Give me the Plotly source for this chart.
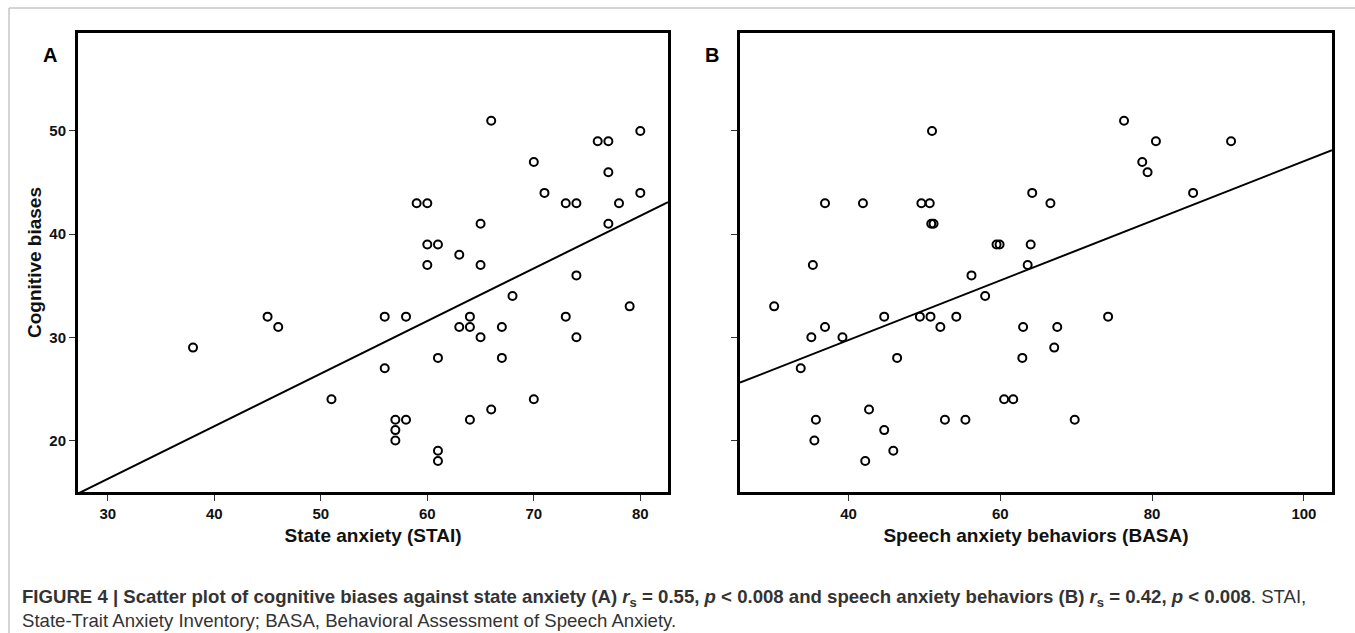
import plotly.graph_objects as go

# Panel A: State anxiety (STAI) vs Cognitive biases
stai = [38, 45, 46, 51, 56, 56, 57, 57, 57, 58, 58, 59, 60, 60, 60, 61, 61, 61, 61,
        63, 63, 64, 64, 64, 65, 65, 65, 66, 66, 67, 67, 68, 70, 70, 71, 73, 73, 74,
        74, 74, 76, 77, 77, 77, 78, 79, 80, 80]
bias_a = [29, 32, 31, 24, 32, 27, 22, 21, 20, 32, 22, 43, 43, 39, 37, 39, 28, 19, 18,
          38, 31, 32, 31, 22, 41, 37, 30, 51, 23, 31, 28, 34, 47, 24, 44, 43, 32, 43,
          36, 30, 49, 49, 46, 41, 43, 33, 50, 44]

# Panel B: Speech anxiety behaviors (BASA) vs Cognitive biases
basa = [30.2, 33.7, 35.1, 35.3, 35.5, 35.7, 36.9, 36.9, 39.2, 41.9, 42.2, 42.7, 44.7,
        44.7, 45.9, 46.4, 49.4, 49.6, 50.7, 50.8, 50.9, 51.2, 51.0, 52.1, 52.7, 54.2,
        55.4, 56.2, 58.0, 59.5, 59.9, 60.5, 61.7, 62.9, 63.0, 63.6, 64.0, 64.2, 66.6,
        67.1, 67.5, 69.8, 74.2, 76.3, 78.7, 79.4, 80.5, 85.4, 90.4]
bias_b = [33, 27, 30, 37, 20, 22, 43, 31, 30, 43, 18, 23, 32, 21, 19, 28, 32, 43, 43,
          32, 41, 41, 50, 31, 22, 32, 22, 36, 34, 39, 39, 24, 24, 28, 31, 37, 39, 44,
          43, 29, 31, 22, 32, 51, 47, 46, 49, 44, 49]

# Regression lines (intercept, slope)
fit_a = (0.975, 0.51)
fit_b = (18.17, 0.289)

xrange_a = [27.2, 82.6]
xrange_b = [25.7, 103.7]
yrange = [15, 59.5]

xticks_a = [30, 40, 50, 60, 70, 80]
xticks_b = [40, 60, 80, 100]
yticks = [20, 30, 40, 50]

W, H = 1355, 633
FONT = "Liberation Sans Narrow, Arial Narrow, Liberation Sans, Arial, sans-serif"

fig = go.Figure()

marker = dict(symbol="circle-open", size=8, color="black", line=dict(width=2, color="black"))

fig.add_trace(go.Scatter(x=stai, y=bias_a, mode="markers", marker=marker,
                         xaxis="x", yaxis="y", showlegend=False))
fig.add_trace(go.Scatter(x=xrange_a, y=[fit_a[0] + fit_a[1] * v for v in xrange_a],
                         mode="lines", line=dict(color="black", width=2),
                         xaxis="x", yaxis="y", showlegend=False))
fig.add_trace(go.Scatter(x=basa, y=bias_b, mode="markers", marker=marker,
                         xaxis="x2", yaxis="y2", showlegend=False))
fig.add_trace(go.Scatter(x=xrange_b, y=[fit_b[0] + fit_b[1] * v for v in xrange_b],
                         mode="lines", line=dict(color="black", width=2),
                         xaxis="x2", yaxis="y2", showlegend=False))

def px_x(p):
    return p / W

def px_y(p):
    return 1 - p / H

ax_common = dict(showline=True, linecolor="black", linewidth=3, mirror=True,
                 showgrid=False, zeroline=False, ticks="outside", ticklen=6,
                 tickwidth=1, tickcolor="#333",
                 tickfont=dict(family=FONT, size=15, color="#111", weight="bold"))

top, bottom = 33, 492

fig.update_layout(
    width=W, height=H, margin=dict(l=0, r=0, t=0, b=0),
    plot_bgcolor="white", paper_bgcolor="white",
    xaxis=dict(domain=[px_x(78), px_x(668)], range=xrange_a, tickvals=xticks_a,
               anchor="y",
               title=dict(text="State anxiety (STAI)", standoff=8,
                          font=dict(family=FONT, size=19, color="#111", weight="bold")),
               **ax_common),
    yaxis=dict(domain=[px_y(bottom), px_y(top)], range=yrange, tickvals=yticks,
               anchor="x",
               title=dict(text="Cognitive biases", standoff=3,
                          font=dict(family=FONT, size=19, color="#111", weight="bold")),
               **ax_common),
    xaxis2=dict(domain=[px_x(740), px_x(1332)], range=xrange_b, tickvals=xticks_b,
                anchor="y2",
                title=dict(text="Speech anxiety behaviors (BASA)", standoff=8,
                           font=dict(family=FONT, size=19, color="#111", weight="bold")),
                **ax_common),
    yaxis2=dict(domain=[px_y(bottom), px_y(top)], range=yrange, tickvals=yticks,
                anchor="x2", showticklabels=False, **ax_common),
)

# Panel letters
fig.add_annotation(text="<b>A</b>", x=px_x(41), y=px_y(42), xref="paper", yref="paper",
                   showarrow=False, font=dict(family="Liberation Sans, Arial", size=20, color="black"))
fig.add_annotation(text="<b>B</b>", x=px_x(712), y=px_y(42), xref="paper", yref="paper",
                   showarrow=False, font=dict(family="Liberation Sans, Arial", size=20, color="black"))

# Caption
cap1 = ("<b>FIGURE 4 | Scatter plot of cognitive biases against state anxiety (A) "
        "<i>r</i><sub>s</sub> = 0.55, <i>p</i> &lt; 0.008 and speech anxiety behaviors (B) "
        "<i>r</i><sub>s</sub> = 0.42, <i>p</i> &lt; 0.008</b>. STAI,")
cap2 = "State-Trait Anxiety Inventory; BASA, Behavioral Assessment of Speech Anxiety."
fig.add_annotation(text=cap1, x=px_x(20), y=px_y(598), xref="paper", yref="paper",
                   xanchor="left", yanchor="middle", showarrow=False, align="left",
                   font=dict(family=FONT, size=18.6, color="#333"))
fig.add_annotation(text=cap2, x=px_x(20), y=px_y(620), xref="paper", yref="paper",
                   xanchor="left", yanchor="middle", showarrow=False, align="left",
                   font=dict(family=FONT, size=18.6, color="#333"))

# Gray frame (left and top edges)
fig.add_shape(type="line", xref="paper", yref="paper", x0=px_x(9), x1=px_x(9),
              y0=0, y1=px_y(8), line=dict(color="#aaaaaa", width=1))
fig.add_shape(type="line", xref="paper", yref="paper", x0=px_x(9), x1=1,
              y0=px_y(8), y1=px_y(8), line=dict(color="#aaaaaa", width=1))

fig.write_html("out.html")
